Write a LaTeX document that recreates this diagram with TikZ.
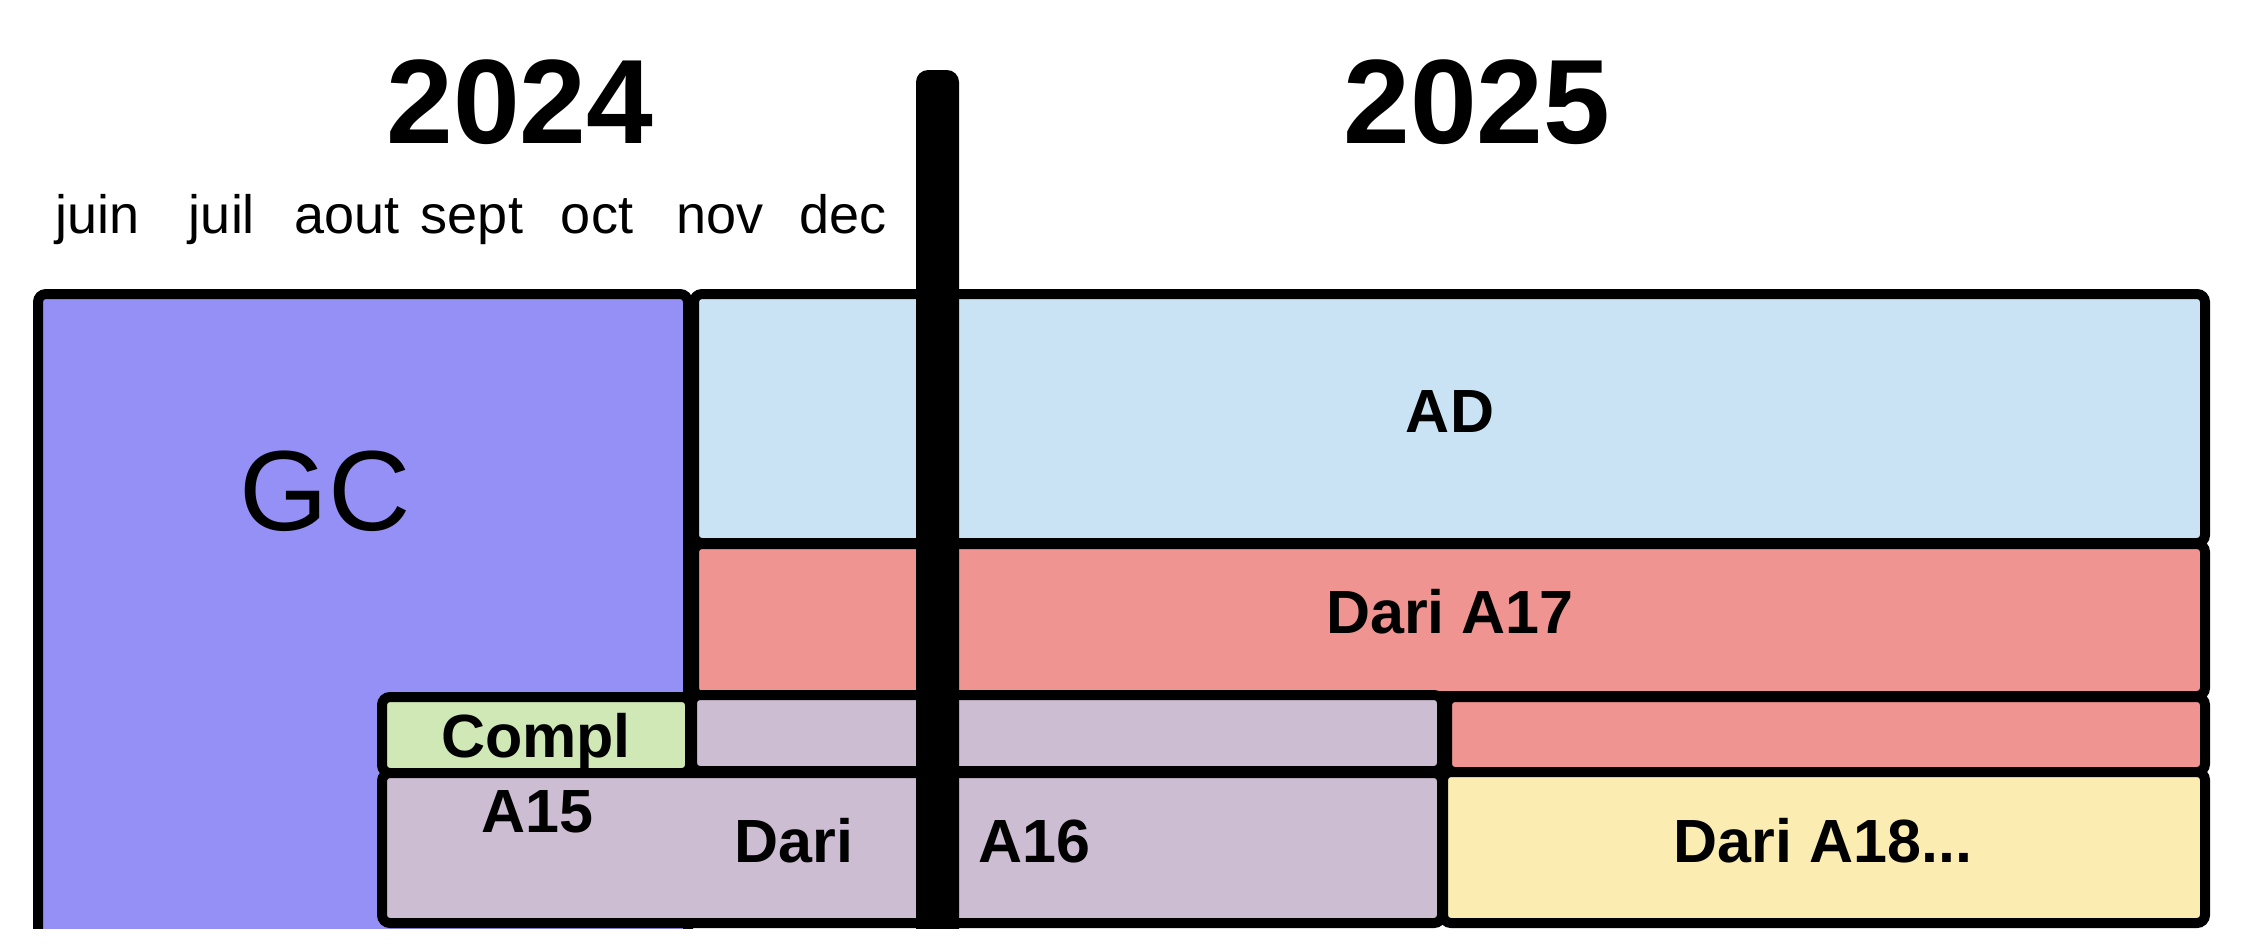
\documentclass[tikz,border=0pt]{standalone}
\usepackage{fontspec}
\setmainfont{Liberation Sans}
\definecolor{gcc}{HTML}{9490F5}
\definecolor{adc}{HTML}{C9E3F5}
\definecolor{redc}{HTML}{EF9490}
\definecolor{purc}{HTML}{CDBDD2}
\definecolor{grnc}{HTML}{D0E8B5}
\definecolor{yelc}{HTML}{FBECB2}
\begin{document}
\begin{tikzpicture}[x=0.5pt,y=-0.5pt,
  box/.style={draw=black, line width=5pt, rounded corners=4pt},
  year/.style={anchor=base, inner sep=0pt, font=\bfseries\fontsize{60}{72}\selectfont},
  month/.style={anchor=base, inner sep=0pt, font=\fontsize{27}{32}\selectfont},
  lbl/.style={anchor=base, inner sep=0pt, font=\bfseries\fontsize{30.5}{36}\selectfont}]
\useasboundingbox (0,0) rectangle (2248,944);
\begin{scope}
  \clip (0,0) rectangle (2248,928);
  \draw[box, fill=gcc] (38,294) rectangle (688,1000);
  \draw[box, fill=adc] (694,294) rectangle (2205,543);
  \draw[box, fill=redc] (694,544) rectangle (2205,696);
  \draw[box, fill=purc] (692,695) rectangle (1442,771);
  \draw[box, fill=redc] (1447,697) rectangle (2205,772);
  \draw[box, fill=grnc] (382,697) rectangle (690,773);
  \draw[box, fill=purc] (382,773) rectangle (1442,923);
  \draw[box, fill=yelc] (1443,772) rectangle (2205,923);
  \fill[black, rounded corners=6pt] (916,70) rectangle (959,1000);
\end{scope}
\node[year] (y24) at (520,143) {2024};
\node[year] (y25) at (1477,143) {2025};
\node[month] (m1) at (98,233) {juin};
\node[month] (m2) at (222,233) {juil};
\node[month] (m3) at (347,233) {aout};
\node[month] (m4) at (472,233) {sept};
\node[month] (m5) at (597,233) {oct};
\node[month] (m6) at (720,233) {nov};
\node[month] (m7) at (843,233) {dec};
\node[anchor=base, inner sep=0pt, font=\fontsize{57}{68}\selectfont] (gc) at (325,530) {GC};
\node[lbl] (ad) at (1450,432) {AD};
\node[lbl] (a17) at (1450,633) {Dari A17};
\node[lbl] (compl) at (536,757) {Compl};
\node[lbl] (a15) at (537,832) {A15};
\node[lbl] (dari) at (794,862) {Dari};
\node[lbl] (a16) at (1034,862) {A16};
\node[lbl] (a18) at (1823,862) {Dari A18...};
\end{tikzpicture}
\end{document}
